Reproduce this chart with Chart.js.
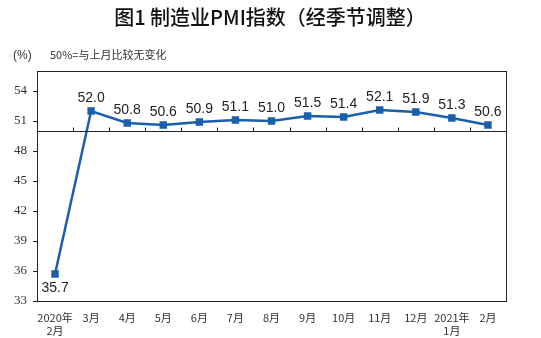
<!DOCTYPE html>
<html>
<head>
<meta charset="utf-8">
<script src="https://cdn.jsdelivr.net/npm/chart.js@4"></script>
<style>
  html, body { margin: 0; padding: 0; background: #fff; }
  #wrap { width: 541px; height: 338px; }
</style>
</head>
<body>
<div id="wrap"><canvas id="chart"></canvas></div>
<script>
// data
const months = [
  ["2020年", "2月"], "3月", "4月", "5月", "6月", "7月", "8月",
  "9月", "10月", "11月", "12月", ["2021年", "1月"], "2月"
];
const pmi = [35.7, 52.0, 50.8, 50.6, 50.9, 51.1, 51.0, 51.5, 51.4, 52.1, 51.9, 51.3, 50.6];
const yTicks = [33, 36, 39, 42, 45, 48, 51, 54];
const baseLine = 50;

const titleText = "图1 制造业PMI指数（经季节调整）";
const unitText = "(%)";
const noteText = "50%=与上月比较无变化";

const blue = "#1b5eab";

// box, 50 line, labels, title
const decor = {
  id: "decor",
  afterDraw(chart) {
    const ctx = chart.ctx;
    const a = chart.chartArea;
    const x = chart.scales.x;
    const y = chart.scales.y;
    ctx.save();

    // title and notes
    ctx.fillStyle = "#111";
    ctx.textAlign = "center";
    ctx.textBaseline = "middle";
    ctx.font = "500 20px 'Noto Sans CJK SC'";
    ctx.fillText(titleText, 270, 17);
    ctx.fillStyle = "#333";
    ctx.textAlign = "left";
    ctx.textBaseline = "alphabetic";
    ctx.font = "12px 'Liberation Sans'";
    ctx.fillText(unitText, 13, 59);
    ctx.font = "11px 'Noto Sans CJK SC'";
    ctx.fillText(noteText, 50, 59);

    // frame
    ctx.strokeStyle = "#222";
    ctx.lineWidth = 1;
    ctx.strokeRect(Math.round(a.left) + 0.5, Math.round(a.top) + 0.5,
      Math.round(a.right - a.left), Math.round(a.bottom - a.top));

    // 50 line with small ticks
    const yb = Math.round(y.getPixelForValue(baseLine)) + 0.5;
    ctx.beginPath();
    ctx.moveTo(a.left, yb);
    ctx.lineTo(a.right, yb);
    for (let i = 1; i < months.length; i++) {
      const xp = Math.round(x.getPixelForValue(i - 0.5)) + 0.5;
      ctx.moveTo(xp, yb);
      ctx.lineTo(xp, yb - 4);
    }
    ctx.stroke();
    ctx.restore();
  }
};

// value labels
const valueLabels = {
  id: "valueLabels",
  afterDatasetsDraw(chart) {
    const ctx = chart.ctx;
    const meta = chart.getDatasetMeta(0);
    ctx.save();
    ctx.font = "14px 'Liberation Sans'";
    ctx.fillStyle = "#222";
    ctx.textAlign = "center";
    ctx.textBaseline = "middle";
    meta.data.forEach((pt, i) => {
      const v = pmi[i];
      const dy = v < 40 ? 14 : -13;
      ctx.fillText(v.toFixed(1), pt.x, pt.y + dy);
    });
    ctx.restore();
  }
};

new Chart(document.getElementById("chart").getContext("2d"), {
  type: "line",
  data: {
    labels: months,
    datasets: [
      {
        label: "PMI",
        data: pmi,
        borderColor: blue,
        backgroundColor: blue,
        borderWidth: 2.5,
        pointStyle: "rect",
        pointRadius: 3.5,
        pointHoverRadius: 3.5,
        tension: 0,
      },
    ],
  },
  options: {
    responsive: true,
    maintainAspectRatio: false,
    animation: false,
    layout: { padding: { top: 71, right: 35, left: 0, bottom: 0 } },
    plugins: {
      legend: { display: false },
      tooltip: { enabled: false },
    },
    scales: {
      x: {
        offset: true,
        grid: { display: false },
        border: { display: false },
        ticks: {
          color: "#333",
          font: { family: "'Noto Sans CJK SC'", size: 11, lineHeight: 1.2 },
          padding: 2,
          maxRotation: 0,
          autoSkip: false,
        },
        afterFit(s) { s.height = 37; },
      },
      y: {
        min: 33,
        max: 56,
        afterBuildTicks(s) { s.ticks = yTicks.map(v => ({ value: v })); },
        grid: { drawOnChartArea: false, tickLength: 4, color: "#222" },
        border: { display: false },
        ticks: {
          color: "#333",
          font: { family: "'Liberation Serif'", size: 13 },
          padding: 6,
        },
        afterFit(s) { s.width = 37; },
      },
    },
  },
  plugins: [decor, valueLabels],
});
</script>
</body>
</html>
